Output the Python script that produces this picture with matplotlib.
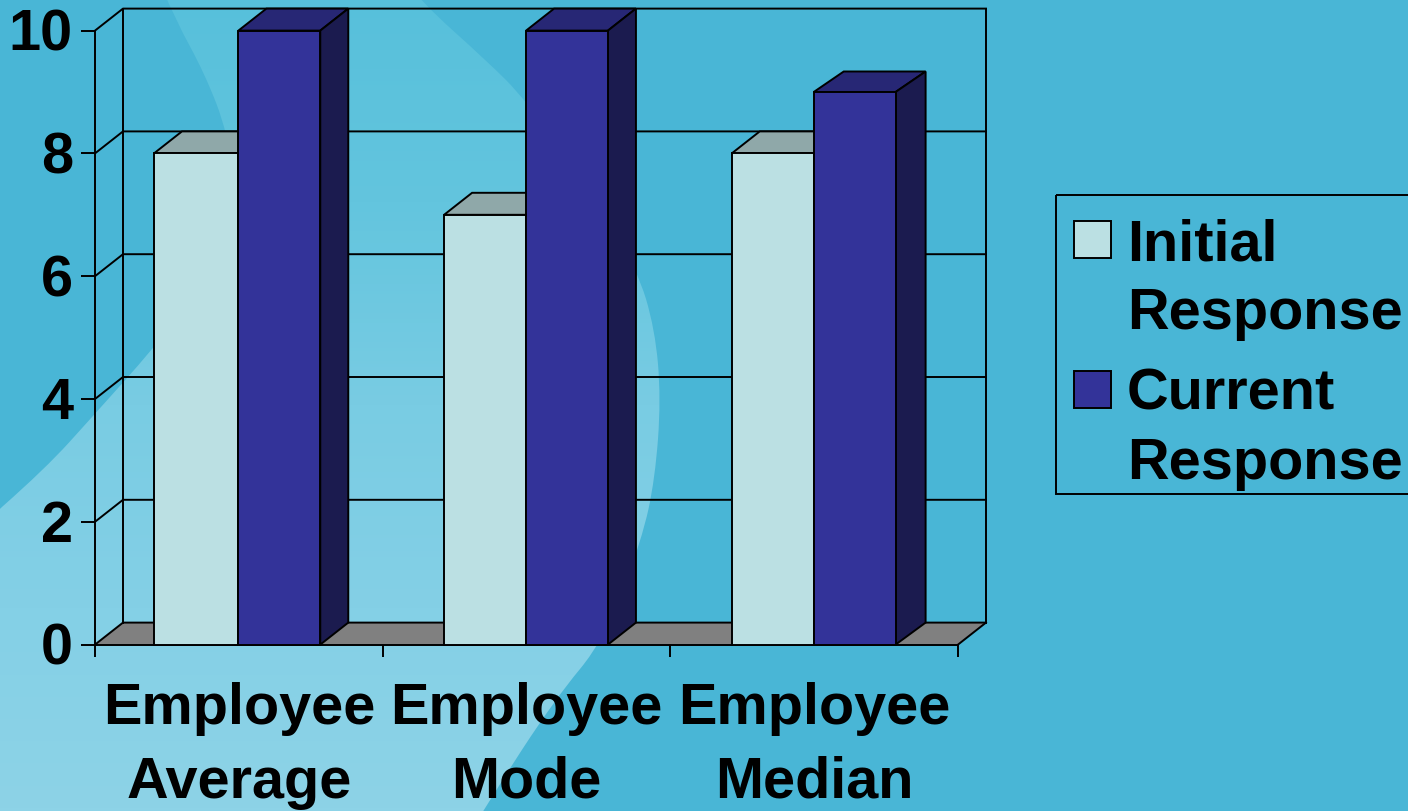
import numpy as np
import matplotlib
matplotlib.use('Agg')
import matplotlib.pyplot as plt
from matplotlib.patches import PathPatch, Rectangle
from matplotlib.path import Path
from matplotlib.colors import LinearSegmentedColormap
from matplotlib.transforms import ScaledTranslation

plt.rcParams['font.family'] = ['Liberation Sans', 'DejaVu Sans']

# chart data
categories = ['Employee\nAverage', 'Employee\nMode', 'Employee\nMedian']
initial = [8, 7, 8]
current = [10, 10, 9]
y_ticks = [0, 2, 4, 6, 8, 10]
legend_labels = ['Initial', 'Response', 'Current', 'Response']

# colours
BG = '#49B6D6'
INITIAL_FRONT = '#BBE0E3'
INITIAL_TOP = '#8FA8A9'
CURRENT_FRONT = '#333399'
CURRENT_TOP = '#272775'
CURRENT_SIDE = '#1B1B4F'
FLOOR = '#808080'

LW = 1.4
FS = 41.5

# 3d offset of the chart, in data units
DX = 28 / 287.67
DY = 22 / 61.4
# the original slide rounds these a bit differently per group
BAR_DX = [28 / 287.67, 28 / 287.67, 30 / 287.67]
BAR_DY = [22 / 61.4, 22 / 61.4, 20.5 / 61.4]
INITIAL_START = [0.205, 0.2135, 0.2135]
CURRENT_START = 0.4985
CURRENT_W = 0.2846

# outline of the pale swoosh in the slide background, in pixels
swoosh = [(150, -40), (175, 20), (205, 75), (228, 135), (235, 200), (205, 285),
          (153, 350), (93, 417), (45, 470), (-40, 545), (-60, 860), (455, 860),
          (490, 800), (555, 700), (605, 640), (642, 540), (655, 480), (661, 400),
          (655, 330), (637, 270), (590, 190), (525, 100), (487, 62), (420, 2), (390, -40)]


def smooth_closed(pts):
    # quadratic spline through the midpoints of the outline
    pts = np.array(pts, dtype=float)
    mids = (pts + np.roll(pts, -1, axis=0)) / 2
    verts = [mids[-1]]
    codes = [Path.MOVETO]
    for p, m in zip(pts, mids):
        verts += [p, m]
        codes += [Path.CURVE3, Path.CURVE3]
    return Path(verts, codes)


fig = plt.figure(figsize=(14.08, 8.12), dpi=100, facecolor=BG)

# background layer
bg = fig.add_axes([0, 0, 1, 1], zorder=0)
bg.set_xlim(0, 1408)
bg.set_ylim(812, 0)
bg.axis('off')
cmap = LinearSegmentedColormap.from_list('swoosh', ['#57C0DB', '#63C5DE', '#79CCE3', '#84D0E6', '#8DD3E7'])
grad = np.linspace(0, 1, 256).reshape(-1, 1)
im = bg.imshow(grad, cmap=cmap, extent=(0, 1408, 812, 0), aspect='auto')
patch = PathPatch(smooth_closed(swoosh), transform=bg.transData, facecolor='none', edgecolor='none')
bg.add_patch(patch)
im.set_clip_path(patch)

# main chart
ax = fig.add_axes([95 / 1408, (812 - 645.6) / 812, 863 / 1408, 614 / 812], zorder=1)
ax.patch.set_alpha(0)
ax.set_xlim(0, 3)
ax.set_ylim(0, 10)
for s in ['top', 'right']:
    ax.spines[s].set_visible(False)
for s in ['left', 'bottom']:
    ax.spines[s].set_linewidth(LW)

# floor and back wall
ax.fill([0, 3, 3 + DX, DX], [0, 0, DY, DY], color=FLOOR, lw=0, zorder=1, clip_on=False)
ax.plot([3, 3 + DX], [0, DY], color='k', lw=LW, zorder=1.5, clip_on=False)
for t in y_ticks:
    ax.plot([0, DX, 3 + DX], [t, t + DY, t + DY], color='k', lw=LW, zorder=1.5, clip_on=False)
ax.plot([DX, DX], [DY, 10 + DY], color='k', lw=LW, zorder=1.5, clip_on=False)
ax.plot([3 + DX, 3 + DX], [DY, 10 + DY], color='k', lw=LW, zorder=1.5, clip_on=False)

# bars
group = np.arange(len(categories))
x_init = group + np.array(INITIAL_START)
x_curr = group + CURRENT_START
for i in group:
    x0 = x_init[i]
    x1 = x_curr[i]
    x2 = x1 + CURRENT_W
    dx = BAR_DX[i]
    dy = BAR_DY[i]
    h = initial[i]
    ax.fill([x0, x1, x1 + DX, x0 + DX], [h, h, h + DY, h + DY], facecolor=INITIAL_TOP,
            edgecolor='k', lw=LW, zorder=2, clip_on=False)
    h = current[i]
    ax.fill([x1, x2, x2 + dx, x1 + dx], [h, h, h + dy, h + dy], facecolor=CURRENT_TOP,
            edgecolor='k', lw=LW, zorder=4, clip_on=False)
    ax.fill([x2, x2 + dx, x2 + dx, x2], [0, DY, h + dy, h], facecolor=CURRENT_SIDE,
            edgecolor='k', lw=LW, zorder=4, clip_on=False)
ax.bar(x_init, initial, x_curr - x_init, align='edge', color=INITIAL_FRONT, edgecolor='k', lw=LW, zorder=3, clip_on=False)
ax.bar(x_curr, current, CURRENT_W, align='edge', color=CURRENT_FRONT, edgecolor='k', lw=LW, zorder=5, clip_on=False)

# ticks
ax.set_yticks(y_ticks)
ax.set_yticklabels([str(t) for t in y_ticks], fontsize=FS, fontweight='bold')
ax.tick_params(axis='y', length=10, width=LW, pad=6)
# digits sit a little high in the original
nudge = ScaledTranslation(0, 2 / 100, fig.dpi_scale_trans)
for lab in ax.get_yticklabels():
    lab.set_transform(lab.get_transform() + nudge)
ax.set_xticks(range(len(categories) + 1))
ax.set_xticklabels([])
ax.tick_params(axis='x', which='major', length=8.6, width=LW)
ax.set_xticks(group + 0.5, minor=True)
ax.set_xticklabels(categories, minor=True, fontsize=FS, fontweight='bold', linespacing=1.48)
ax.tick_params(axis='x', which='minor', length=0, pad=26)

# legend, the labels wrap with the swatch on the first line
lg = fig.add_axes([0, 0, 1, 1], zorder=2)
lg.set_xlim(0, 1408)
lg.set_ylim(812, 0)
lg.axis('off')
lg.add_patch(Rectangle((1056, 195.5), 360, 299.5, facecolor='none', edgecolor='k', lw=LW))
lg.add_patch(Rectangle((1073.5, 222), 37, 37, facecolor=INITIAL_FRONT, edgecolor='k', lw=LW))
lg.add_patch(Rectangle((1073.5, 372), 37, 37, facecolor=CURRENT_FRONT, edgecolor='k', lw=LW))
for label, base in zip(legend_labels, [261, 329, 410, 479]):
    lg.text(1127, base, label, fontsize=FS, fontweight='bold', va='baseline', ha='left')

fig.savefig('out.png', dpi=100, facecolor=BG)
